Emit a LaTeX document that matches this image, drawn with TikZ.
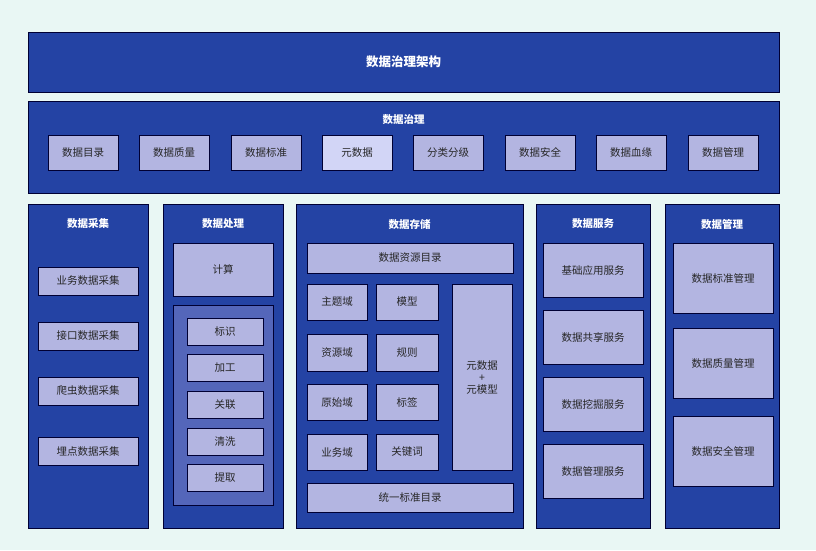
\documentclass[tikz,border=0pt]{standalone}
\usepackage{fontspec}
\setmainfont{Noto Sans CJK SC}
\begin{document}
\begin{tikzpicture}[x=1pt,y=-1pt,
  dk/.style={draw=black!80!blue,fill=dkb,line width=0.6pt},
  lt/.style={draw=black!80!blue,fill=ltb,line width=0.6pt,font=\fontsize{10.5}{12}\selectfont,text=black!85,align=center},
  hd/.style={text=white,font=\bfseries\fontsize{10.5}{12}\selectfont}]
\definecolor{bg}{HTML}{E9F7F4}
\definecolor{dkb}{HTML}{2443A4}
\definecolor{ltb}{HTML}{B3B5E1}
\definecolor{mdb}{HTML}{5466BA}
\definecolor{lt2}{HTML}{D2D5F6}
\fill[bg] (0,0) rectangle (816,550);
\newcommand\bx[6]{\node[#1,minimum width={#4-#2},minimum height={#5-#3},inner sep=0] (#6) at ({(#2+#4)/2},{(#3+#5)/2}) {};}
\newcommand\lb[6]{\node[lt,minimum width={#3-#1},minimum height={#4-#2},inner sep=0] (#5) at ({(#1+#3)/2},{(#2+#4)/2}) {#6};}
% title
\node[dk,minimum width=751,minimum height=60,inner sep=0,text=white,font=\bfseries\fontsize{12.5}{14}\selectfont] (title) at (403.5,62) {数据治理架构};
% governance
\bx{dk}{28}{101}{779}{193}{gov}
\node[hd] (govt) at (403.5,120) {数据治理};
\foreach \a/\t [count=\i] in {48/数据目录,139/数据质量,231/数据标准,322/元数据,413/分类分级,505/数据安全,596/数据血缘,688/数据管理}{
  \node[lt,minimum width=70,minimum height=35,inner sep=0] (g\i) at (\a+35,152.5) {\t};}
\path (g4) node[lt,fill=lt2,minimum width=70,minimum height=35,inner sep=0] {元数据};
% collection
\bx{dk}{28}{204}{148}{528}{col}
\node[hd] (colt) at (88,224) {数据采集};
\foreach \y/\t [count=\i] in {267/业务数据采集,322/接口数据采集,377/爬虫数据采集,437/埋点数据采集}{
  \node[lt,minimum width=100,minimum height=28,inner sep=0] (c\i) at (88,\y+14) {\t};}
% processing
\bx{dk}{163}{204}{283}{528}{pro}
\node[hd] (prot) at (223,224) {数据处理};
\lb{173}{243}{273}{296}{calc}{计算}
\node[draw=black!80!blue,fill=mdb,minimum width=100,minimum height=200,inner sep=0] (inner) at (223,405) {};
\foreach \y/\t [count=\i] in {318/标识,354/加工,391/关联,428/清洗,464/提取}{
  \node[lt,minimum width=76,minimum height=27,inner sep=0] (p\i) at (225,\y+13.5) {\t};}
% storage
\bx{dk}{296}{204}{523}{528}{sto}
\node[hd] (stot) at (409.5,224) {数据存储};
\lb{307}{243}{513}{273}{dir}{数据资源目录}
\lb{307}{284}{367}{320}{s1}{主题域}
\lb{376}{284}{438}{320}{s2}{模型}
\lb{307}{334}{367}{371}{s3}{资源域}
\lb{376}{334}{438}{371}{s4}{规则}
\lb{307}{384}{367}{420}{s5}{原始域}
\lb{376}{384}{438}{420}{s6}{标签}
\lb{307}{434}{367}{470}{s7}{业务域}
\lb{376}{434}{438}{470}{s8}{关键词}
\lb{452}{284}{512}{470}{meta}{元数据\\+\\元模型}
\lb{307}{483}{513}{512}{std}{统一标准目录}
% services
\bx{dk}{536}{204}{650}{528}{ser}
\node[hd] (sert) at (593,224) {数据服务};
\foreach \y/\t [count=\i] in {243/基础应用服务,310/数据共享服务,377/数据挖掘服务,444/数据管理服务}{
  \node[lt,minimum width=100,minimum height=54,inner sep=0] (v\i) at (593,\y+27) {\t};}
% management
\bx{dk}{665}{204}{779}{528}{man}
\node[hd] (mant) at (722,224) {数据管理};
\foreach \y/\t [count=\i] in {243/数据标准管理,328/数据质量管理,416/数据安全管理}{
  \node[lt,minimum width=100,minimum height=70,inner sep=0] (m\i) at (723,\y+35) {\t};}
\end{tikzpicture}
\end{document}
